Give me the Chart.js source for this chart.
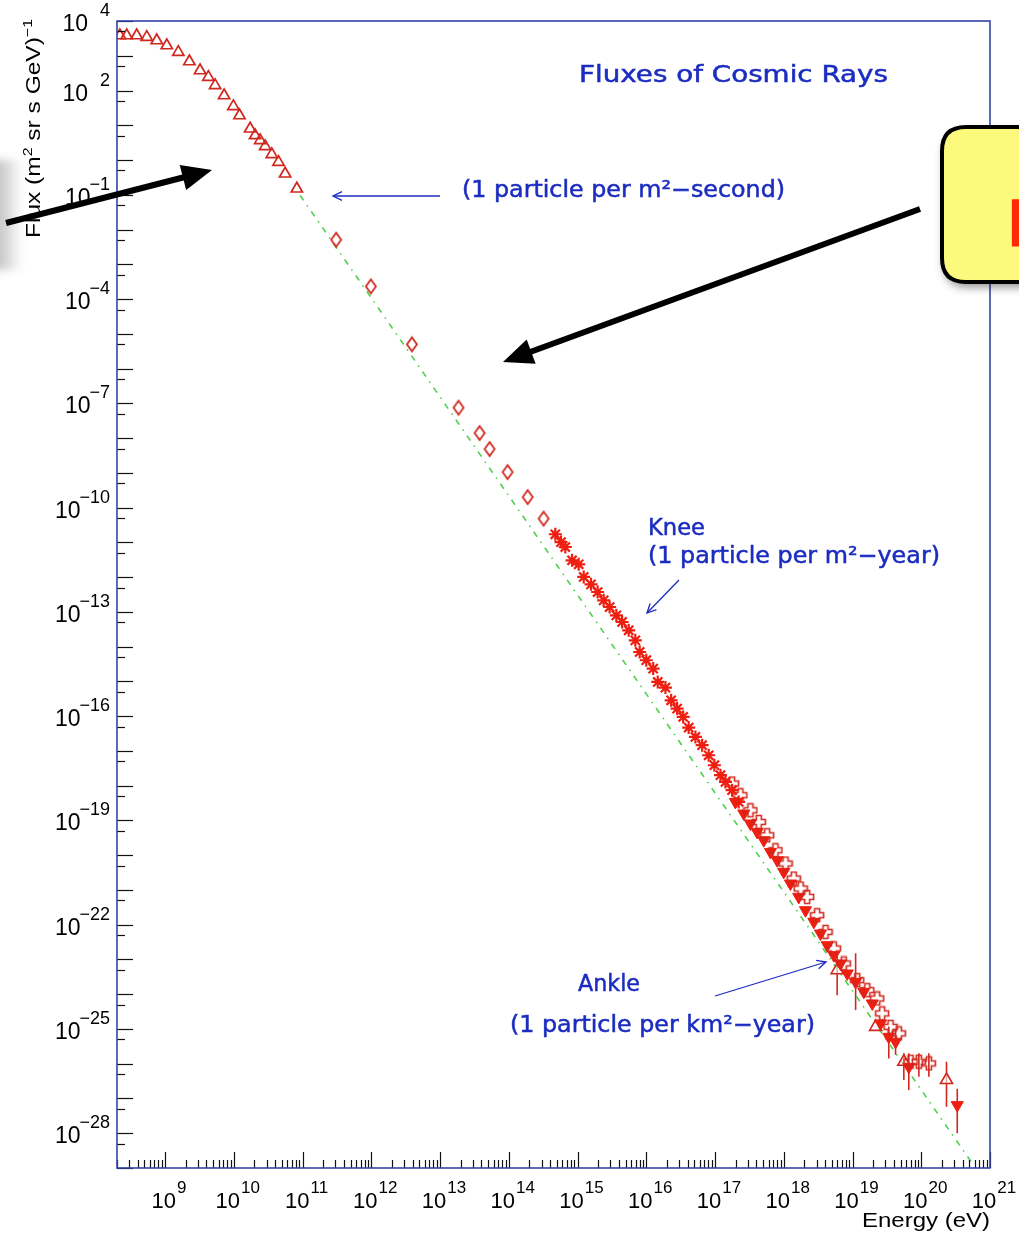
<!DOCTYPE html>
<html>
<head>
<meta charset="utf-8">
<script src="https://cdn.jsdelivr.net/npm/chart.js@4.4.1/dist/chart.umd.min.js"></script>
<style>
  html, body { margin: 0; padding: 0; background: #ffffff; }
  #wrap { width: 1019px; height: 1236px; position: relative; }
</style>
</head>
<body>
<div id="wrap"><canvas id="flux" width="1019" height="1236"></canvas></div>
<script>
// ---- measured fluxes, (m^2 sr s GeV)^-1 versus energy in eV ----
// low-energy direct measurements (open triangles)
const lowE    = [2.2e8, 2.77e8, 3.87e8, 5.42e8, 7.57e8, 1.06e9, 1.56e9, 2.26e9, 3.23e9, 4.27e9, 5.35e9, 7.23e9,
                 9.86e9, 1.21e10, 1.73e10, 2.04e10, 2.42e10, 2.86e10, 3.57e10, 4.47e10, 5.58e10, 8.26e10];
const lowFlux = [3.83e3, 3.83e3, 3.83e3, 3.42e3, 2.75e3, 1.97e3, 1.27e3, 6.84e2, 3.77e2, 2.43e2, 1.40e2, 71.9,
                 34.8, 19.1, 7.94, 5.09, 3.66, 2.46, 1.45, 0.869, 0.403, 0.149];

// balloon / satellite points (open diamonds)
const midE    = [3.08e11, 9.86e11, 3.90e12, 1.86e13, 3.76e13, 5.26e13, 9.62e13, 1.88e14, 3.21e14];
const midFlux = [5.09e-3, 2.31e-4, 4.97e-6, 7.50e-8, 1.40e-8, 4.84e-9, 1.05e-9, 2.01e-10, 4.82e-11];

// air-shower arrays around the knee (asterisks)
const kneeE    = [4.75e14, 5.75e14, 6.64e14, 8.32e14, 1.04e15, 1.23e15, 1.57e15, 1.96e15, 2.40e15, 2.93e15,
                  3.67e15, 4.45e15, 5.55e15, 6.93e15, 8.02e15, 1.00e16, 1.26e16, 1.47e16, 1.90e16, 2.30e16,
                  2.81e16, 3.44e16, 4.14e16, 5.19e16, 6.49e16, 8.09e16, 9.79e16, 1.20e17, 1.42e17, 1.77e17, 2.21e17];
const kneeFlux = [1.71e-11, 1.02e-11, 7.35e-12, 3.05e-12, 2.34e-12, 1.01e-12, 6.21e-13, 3.73e-13, 2.15e-13, 1.38e-13,
                  7.96e-14, 5.12e-14, 2.95e-14, 1.52e-14, 7.01e-15, 4.06e-15, 2.34e-15, 9.64e-16, 6.64e-16, 2.86e-16,
                  1.65e-16, 9.48e-17, 4.70e-17, 2.52e-17, 1.46e-17, 7.50e-18, 3.87e-18, 2.00e-18, 1.28e-18, 7.40e-19, 3.40e-19];

// ultra-high-energy points (open crosses)
const crossE    = [1.77e17, 2.34e17, 3.27e17, 4.33e17, 5.73e17, 7.57e17, 1.06e18, 1.40e18, 1.76e18, 2.19e18,
                   3.06e18, 4.05e18, 5.35e18, 7.46e18, 1.17e19, 1.64e19, 2.29e19, 2.70e19, 3.57e19, 4.72e19,
                   6.98e19, 9.23e19, 1.29e20];
const crossFlux = [1.15e-18, 5.31e-19, 1.96e-19, 9.06e-20, 3.74e-20, 1.39e-20, 5.75e-21, 2.13e-21, 1.10e-21, 6.31e-22,
                   1.87e-22, 6.21e-23, 2.07e-23, 7.66e-24, 2.54e-24, 1.31e-24, 7.55e-25, 2.80e-25, 1.15e-25, 7.45e-26,
                   1.14e-26, 1.14e-26, 1.02e-26];

// ultra-high-energy points (filled down triangles)
const downE    = [1.98e17, 2.62e17, 3.27e17, 4.10e17, 5.12e17, 6.40e17, 8.02e17, 1.00e18, 1.25e18, 1.65e18,
                  2.07e18, 2.74e18, 3.42e18, 4.29e18, 5.35e18, 6.68e18, 8.38e18, 1.11e19, 1.46e19, 1.94e19,
                  2.56e19, 3.37e19, 4.23e19, 6.59e19, 3.34e20];
const downFlux = [3.40e-19, 1.58e-19, 8.15e-20, 4.68e-20, 2.70e-20, 1.24e-20, 7.16e-21, 3.30e-21, 1.53e-21, 6.31e-22,
                  2.61e-22, 1.21e-22, 5.58e-23, 2.57e-23, 1.33e-23, 7.66e-24, 3.95e-24, 2.26e-24, 1.17e-24, 5.42e-25,
                  1.44e-25, 5.93e-26, 4.27e-26, 8.15e-27, 6.44e-28];

// ultra-high-energy points (open triangles)
const upE    = [5.98e18, 2.17e19, 5.58e19, 2.33e20];
const upFlux = [4.90e-24, 1.15e-25, 1.14e-26, 3.40e-27];

// vertical error bars
const errE    = [1.11e19, 3.37e19, 4.23e19, 6.59e19, 9.23e19, 1.29e20, 3.34e20, 5.98e18, 5.58e19, 2.33e20];
const errHigh = [1.5e-23, 1.17e-25, 1.0e-25, 2.0e-26, 2.0e-26, 2.0e-26, 1.9e-27, 1.48e-23, 1.99e-26, 1.14e-26];
const errLow  = [3.5e-25, 1.41e-26, 1.8e-26, 1.74e-27, 4.2e-27, 4.2e-27, 1.0e-28, 9.3e-25, 3.4e-27, 5.75e-28];

// single power law drawn through the spectrum
const fitE    = [9.23e10, 5.52e20];
const fitFlux = [9.57e-2, 1.36e-29];

// axis ranges and labelled decades
const xRange = [2e8, 1e21];
const yRange = [1e-29, 1e4];
const xLabelExps = [9, 10, 11, 12, 13, 14, 15, 16, 17, 18, 19, 20, 21];
const yLabelExps = [4, 2, -1, -4, -7, -10, -13, -16, -19, -22, -25, -28];

// ---- styles ----
const RED_OPEN = '#d0281e';
const RED_FILL = '#ee1e10';
const BLUE = '#1b2cc0';
const FRAME = '#3344a8';

function pts(xs, ys) { return xs.map((x, i) => ({ x: x, y: ys[i] })); }

function markerCanvas(w, h, draw) {
  const c = document.createElement('canvas');
  c.width = w; c.height = h;
  draw(c.getContext('2d'));
  return c;
}
const diamondMark = markerCanvas(14, 18, g => {
  g.strokeStyle = RED_OPEN; g.lineWidth = 1.8;
  g.beginPath(); g.moveTo(7, 2); g.lineTo(12, 9); g.lineTo(7, 16); g.lineTo(2, 9); g.closePath(); g.stroke();
});
const crossMark = markerCanvas(16, 16, g => {
  g.strokeStyle = RED_OPEN; g.lineWidth = 1.6;
  const a = 2.5, b = 6.5, c = 8;
  g.beginPath();
  g.moveTo(c - a, c - b); g.lineTo(c + a, c - b); g.lineTo(c + a, c - a); g.lineTo(c + b, c - a);
  g.lineTo(c + b, c + a); g.lineTo(c + a, c + a); g.lineTo(c + a, c + b); g.lineTo(c - a, c + b);
  g.lineTo(c - a, c + a); g.lineTo(c - b, c + a); g.lineTo(c - b, c - a); g.lineTo(c - a, c - a);
  g.closePath(); g.stroke();
});

// ---- text helpers ----
function fitText(ctx, text, x, y, width, font, color, weight) {
  ctx.save();
  ctx.font = font; ctx.fillStyle = color; ctx.textBaseline = 'alphabetic'; ctx.textAlign = 'left';
  const w = ctx.measureText(text).width;
  ctx.translate(x, y); ctx.scale(width / w, 1);
  ctx.fillText(text, 0, 0);
  if (weight) { ctx.strokeStyle = color; ctx.lineWidth = weight; ctx.strokeText(text, 0, 0); }
  ctx.restore();
}

// rich text: parts are [text, isSuperscript]
function richWidth(ctx, parts, baseFont, supFont) {
  let w = 0;
  parts.forEach(p => { ctx.font = p[1] ? supFont : baseFont; w += ctx.measureText(p[0]).width; });
  return w;
}
function drawRich(ctx, parts, x, y, baseFont, supFont, rise, color) {
  ctx.fillStyle = color; ctx.textBaseline = 'alphabetic'; ctx.textAlign = 'left';
  let cx = x;
  parts.forEach(p => {
    ctx.font = p[1] ? supFont : baseFont;
    ctx.fillText(p[0], cx, p[1] ? y - rise : y);
    cx += ctx.measureText(p[0]).width;
  });
}

function openArrow(ctx, x1, y1, x2, y2, color) {
  const ang = Math.atan2(y2 - y1, x2 - x1), L = 10, s = 0.45;
  ctx.save();
  ctx.strokeStyle = color; ctx.lineWidth = 1.3;
  ctx.beginPath(); ctx.moveTo(x1, y1); ctx.lineTo(x2, y2); ctx.stroke();
  ctx.beginPath();
  ctx.moveTo(x2 - L * Math.cos(ang - s), y2 - L * Math.sin(ang - s));
  ctx.lineTo(x2, y2);
  ctx.lineTo(x2 - L * Math.cos(ang + s), y2 - L * Math.sin(ang + s));
  ctx.stroke();
  ctx.restore();
}

function boldArrow(ctx, x1, y1, x2, y2) {
  const ang = Math.atan2(y2 - y1, x2 - x1), L = 30, H = 13;
  const bx = x2 - L * Math.cos(ang), by = y2 - L * Math.sin(ang);
  ctx.save();
  ctx.strokeStyle = '#000'; ctx.fillStyle = '#000'; ctx.lineWidth = 6; ctx.lineCap = 'butt';
  ctx.beginPath(); ctx.moveTo(x1, y1); ctx.lineTo(bx + 4 * Math.cos(ang), by + 4 * Math.sin(ang)); ctx.stroke();
  ctx.beginPath();
  ctx.moveTo(x2, y2);
  ctx.lineTo(bx + H * Math.sin(ang), by - H * Math.cos(ang));
  ctx.lineTo(bx - H * Math.sin(ang), by + H * Math.cos(ang));
  ctx.closePath(); ctx.fill();
  ctx.restore();
}

function roundRect(ctx, x, y, w, h, r) {
  ctx.beginPath();
  ctx.moveTo(x + r, y); ctx.lineTo(x + w - r, y); ctx.quadraticCurveTo(x + w, y, x + w, y + r);
  ctx.lineTo(x + w, y + h - r); ctx.quadraticCurveTo(x + w, y + h, x + w - r, y + h);
  ctx.lineTo(x + r, y + h); ctx.quadraticCurveTo(x, y + h, x, y + h - r);
  ctx.lineTo(x, y + r); ctx.quadraticCurveTo(x, y, x + r, y);
  ctx.closePath();
}

// ---- error bars under the markers ----
const errorBars = {
  id: 'errorBars',
  beforeDatasetsDraw(chart) {
    const { ctx, scales: { x, y } } = chart;
    ctx.save();
    ctx.strokeStyle = RED_OPEN; ctx.lineWidth = 1.6;
    errE.forEach((e, i) => {
      const px = x.getPixelForValue(e);
      ctx.beginPath();
      ctx.moveTo(px, y.getPixelForValue(errHigh[i]));
      ctx.lineTo(px, y.getPixelForValue(errLow[i]));
      ctx.stroke();
    });
    ctx.restore();
  }
};

// ---- frame, inward ticks, labels, annotations ----
const decorations = {
  id: 'decorations',
  afterDraw(chart) {
    const { ctx, chartArea: a, scales: { x, y } } = chart;
    ctx.save();

    // tick marks
    ctx.strokeStyle = '#111'; ctx.lineWidth = 1.2;
    for (let d = 8; d <= 21; d++) {
      for (let k = 1; k <= 9; k++) {
        const v = k * Math.pow(10, d);
        if (v < xRange[0] * 0.999 || v > xRange[1] * 1.001) continue;
        const px = Math.round(x.getPixelForValue(v)) + 0.5;
        const len = k === 1 ? 16 : 8;
        ctx.beginPath(); ctx.moveTo(px, a.bottom); ctx.lineTo(px, a.bottom - len); ctx.stroke();
      }
    }
    for (let d = -29; d <= 4; d++) {
      [[1, 16], [5, 8]].forEach(([k, len]) => {
        const v = k * Math.pow(10, d);
        if (v < yRange[0] * 0.999 || v > yRange[1] * 1.001) return;
        const py = Math.round(y.getPixelForValue(v)) + 0.5;
        ctx.beginPath(); ctx.moveTo(a.left, py); ctx.lineTo(a.left + len, py); ctx.stroke();
      });
    }

    // frame
    ctx.strokeStyle = FRAME; ctx.lineWidth = 1.6;
    ctx.strokeRect(a.left, a.top, a.right - a.left, a.bottom - a.top);

    // x tick labels 10^n
    const baseF = '22px "Liberation Sans", Arial, sans-serif';
    const supF = '17px "Liberation Sans", Arial, sans-serif';
    xLabelExps.forEach(e => {
      const px = x.getPixelForValue(Math.pow(10, e));
      ctx.font = baseF; const wb = ctx.measureText('10').width;
      ctx.font = supF; const we = ctx.measureText(String(e)).width;
      const start = px + 4 - (wb + 1 + we) / 2;
      ctx.fillStyle = '#000'; ctx.textAlign = 'left'; ctx.textBaseline = 'alphabetic';
      ctx.font = baseF; ctx.fillText('10', start, 1208);
      ctx.font = supF; ctx.fillText(String(e), start + wb + 1, 1193);
    });

    // y tick labels 10^n
    const ybaseF = '23px "Liberation Sans", Arial, sans-serif';
    const ysupF = '18px "Liberation Sans", Arial, sans-serif';
    yLabelExps.forEach(e => {
      const py = y.getPixelForValue(Math.pow(10, e));
      const et = e < 0 ? '\u2212' + Math.abs(e) : String(e);
      ctx.fillStyle = '#000'; ctx.textBaseline = 'alphabetic';
      ctx.font = ysupF; const we = ctx.measureText(et).width;
      ctx.textAlign = 'right';
      ctx.fillText(et, 110, py - 5);
      ctx.font = ybaseF;
      ctx.fillText('10', e < 0 ? 110 - we + 1 : 88, py + 10);
    });

    // axis titles
    fitText(ctx, 'Energy (eV)', 862, 1227, 128, '21px "Liberation Sans", Arial, sans-serif', '#000');
    ctx.save();
    ctx.translate(40, 238); ctx.rotate(-Math.PI / 2);
    const tParts = [['Flux (m', false], ['2', true], [' sr s GeV)', false], ['\u22121', true]];
    const tb = '20px "Liberation Sans", Arial, sans-serif', ts = '13px "Liberation Sans", Arial, sans-serif';
    const tw = richWidth(ctx, tParts, tb, ts);
    ctx.scale(219 / tw, 1);
    drawRich(ctx, tParts, 0, 0, tb, ts, 8, '#000');
    ctx.restore();

    // annotations
    const af = '23px "DejaVu Sans", sans-serif';
    fitText(ctx, 'Fluxes of Cosmic Rays', 579, 82, 309, af, BLUE, 0.5);
    fitText(ctx, '(1 particle per m\u00b2\u2212second)', 462, 197, 323, af, BLUE, 0.5);
    fitText(ctx, 'Knee', 648, 535, 57, af, BLUE, 0.5);
    fitText(ctx, '(1 particle per m\u00b2\u2212year)', 648, 563, 292, af, BLUE, 0.5);
    fitText(ctx, 'Ankle', 578, 991, 62, af, BLUE, 0.5);
    fitText(ctx, '(1 particle per km\u00b2\u2212year)', 510, 1032, 305, af, BLUE, 0.5);
    openArrow(ctx, 440, 196, 333, 196, BLUE);
    openArrow(ctx, 679, 580, 647, 613, BLUE);
    openArrow(ctx, 715, 996, 826, 962, BLUE);

    // callout overlays
    const g = ctx.createLinearGradient(0, 0, 22, 0);
    g.addColorStop(0, 'rgba(0,0,0,0.22)'); g.addColorStop(1, 'rgba(0,0,0,0)');
    ctx.save();
    ctx.filter = 'blur(4px)';
    ctx.fillStyle = g; ctx.fillRect(-10, 160, 32, 110);
    ctx.restore();

    boldArrow(ctx, 6, 223, 212, 170);
    boldArrow(ctx, 920, 209, 503, 362);

    ctx.save();
    ctx.shadowColor = 'rgba(0,0,0,0.45)'; ctx.shadowBlur = 10; ctx.shadowOffsetX = 2; ctx.shadowOffsetY = 5;
    roundRect(ctx, 942, 127, 140, 155, 24);
    ctx.fillStyle = '#fdf97c'; ctx.fill();
    ctx.restore();
    roundRect(ctx, 942, 127, 140, 155, 24);
    ctx.lineWidth = 4; ctx.strokeStyle = '#000'; ctx.stroke();
    ctx.fillStyle = '#ff2a00'; ctx.font = 'bold 64px "DejaVu Sans", sans-serif';
    ctx.textAlign = 'left'; ctx.textBaseline = 'alphabetic';
    ctx.fillText('P', 1006, 246);

    ctx.restore();
  }
};

const chart = new Chart(document.getElementById('flux'), {
  data: {
    datasets: [
      { type: 'line', data: pts(fitE, fitFlux), borderColor: '#4ed04a', borderWidth: 1.6,
        borderDash: [6, 6, 1.5, 6], pointRadius: 0, fill: false, tension: 0, order: 10 },
      { type: 'scatter', data: pts(lowE, lowFlux), pointStyle: 'triangle', pointRadius: 6.5,
        borderColor: RED_OPEN, backgroundColor: 'rgba(0,0,0,0)', borderWidth: 1.7 },
      { type: 'scatter', data: pts(midE, midFlux), pointStyle: diamondMark, pointRadius: 6 },
      { type: 'scatter', data: pts(kneeE, kneeFlux), pointStyle: 'star', pointRadius: 6.5,
        borderColor: RED_FILL, backgroundColor: RED_FILL, borderWidth: 2.2 },
      { type: 'scatter', data: pts(crossE, crossFlux), pointStyle: crossMark, pointRadius: 7 },
      { type: 'scatter', data: pts(downE, downFlux), pointStyle: 'triangle', rotation: 180, pointRadius: 7,
        borderColor: RED_FILL, backgroundColor: RED_FILL, borderWidth: 1 },
      { type: 'scatter', data: pts(upE, upFlux), pointStyle: 'triangle', pointRadius: 7,
        borderColor: RED_OPEN, backgroundColor: 'rgba(255,255,255,0.6)', borderWidth: 1.6 }
    ]
  },
  options: {
    responsive: false,
    animation: false,
    devicePixelRatio: 1,
    layout: { padding: { top: 21, right: 29, left: 0, bottom: 0 } },
    plugins: { legend: { display: false }, tooltip: { enabled: false } },
    scales: {
      x: { type: 'logarithmic', min: xRange[0], max: xRange[1], bounds: 'data',
           grid: { display: false, drawTicks: false }, border: { display: false },
           ticks: { display: false }, afterFit(s) { s.height = 68; } },
      y: { type: 'logarithmic', min: yRange[0], max: yRange[1], bounds: 'data',
           grid: { display: false, drawTicks: false }, border: { display: false },
           ticks: { display: false }, afterFit(s) { s.width = 117; } }
    }
  },
  plugins: [errorBars, decorations]
});
</script>
</body>
</html>
